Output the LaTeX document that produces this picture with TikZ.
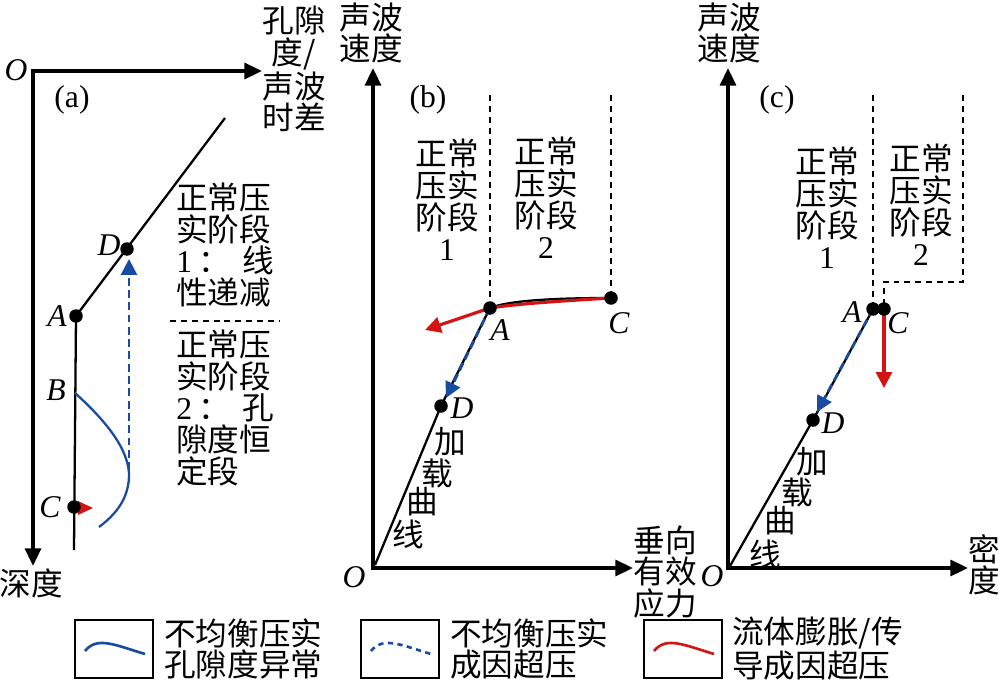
\documentclass[tikz,border=0pt]{standalone}
\usepackage{fontspec}
\setmainfont{Liberation Serif}
\newfontfamily\zh{Noto Sans CJK SC}
\usetikzlibrary{arrows.meta}
\definecolor{fluidred}{RGB}{210,20,20}
\definecolor{compblue}{RGB}{25,75,160}
\newcommand{\txtsize}{\fontsize{18}{18}\selectfont}

\tikzset{
  axispair/.style={line width=2.1pt, {Triangle[length=10pt,width=9pt]}-{Triangle[length=10pt,width=9pt]}},
  trend/.style={line width=1.3pt},
  pt/.style={circle, fill=black, inner sep=0pt, minimum size=0.27cm},
  zhlbl/.style={font=\txtsize\zh, align=center, inner sep=0pt},
  ltr/.style={font=\txtsize, inner sep=0pt},
  bound/.style={line width=0.9pt, dash pattern=on 3.4pt off 2.8pt},
  bluedash/.style={compblue, line width=1.6pt, dash pattern=on 4.5pt off 2.5pt, -{Triangle[length=9pt,width=9pt]}},
  redarr/.style={fluidred, line width=1.8pt, -{Triangle[length=9pt,width=9pt]}},
  legbox/.style={draw, line width=1.4pt, minimum width=1.56cm, minimum height=1.16cm, inner sep=0pt},
  leg1/.style={compblue, line width=1.5pt},
  leg2/.style={compblue, line width=1.5pt, dash pattern=on 3pt off 2.5pt},
  leg3/.style={fluidred, line width=1.5pt},
}

\begin{document}
\begin{tikzpicture}[x=0.02cm,y=-0.02cm]
\useasboundingbox (0,0) rectangle (1000,686);

% (a) depth profile
\coordinate (aO) at (33,71);
\coordinate (aX) at (262,71);
\coordinate (aY) at (33,566);
\draw[axispair] (aX) -- (aO) -- (aY);
\node[ltr] (aOl) at (16,70) {\textit{O}};
\node[zhlbl] (aXl) at (294,69) {孔隙\\度/\\声波\\时差};
\node[zhlbl] (aYl) at (31,583) {深度};
\node[ltr] (aTag) at (72,100) {(a)};

\coordinate (aA) at (76,316);
\coordinate (aD) at (127,249);
\coordinate (aC) at (74,507);
\coordinate (aB) at (75,393);
\coordinate (aT) at (225,118);
\coordinate (aE) at (74,550);
\draw[trend] (aT) -- (aA) -- (aE);
\draw[trend, compblue] (aB) .. controls (105,420) and (130,450) .. (129,477)
  .. controls (128,500) and (115,515) .. (99,527);
\coordinate (aS) at (129,470);
\coordinate (aU) at (129,259);
\draw[bluedash] (aS) -- (aU);
\fill[fluidred] (78,501) -- (93,508) -- (78,515) -- cycle;
\node[pt] (aAp) at (aA) {};
\node[pt] (aDp) at (aD) {};
\node[pt] (aCp) at (aC) {};
\node[ltr] (aAl) at (57,316) {\textit{A}};
\node[ltr] (aBl) at (56,390) {\textit{B}};
\node[ltr] (aCl) at (50,507) {\textit{C}};
\node[ltr] (aDl) at (109,245) {\textit{D}};

\node[zhlbl, align=left, anchor=west] (aSeg1) at (176,245)
  {正常压\\实阶段\\{\rmfamily 1}\hspace{0.2em}：\hspace{0.4em}线\\性递减};
\coordinate (aL) at (170,321);
\coordinate (aR) at (280,321);
\draw[bound] (aL) -- (aR);
\node[zhlbl, align=left, anchor=west] (aSeg2) at (176,408)
  {正常压\\实阶段\\{\rmfamily 2}\hspace{0.2em}：\hspace{0.4em}孔\\隙度恒\\定段};

% (b) velocity vs. effective stress
\coordinate (bO) at (373,568);
\coordinate (bY) at (373,68);
\coordinate (bX) at (633,568);
\draw[axispair] (bY) -- (bO) -- (bX);
\node[ltr] (bOl) at (354,577) {\textit{O}};
\node[zhlbl] (bYl) at (371,33) {声波\\速度};
\node[zhlbl] (bXl) at (665,572) {垂向\\有效\\应力};
\node[ltr] (bTag) at (428,100) {(b)};

\coordinate (bA) at (490,308);
\coordinate (bC) at (611,298);
\coordinate (bD) at (441,406);
\coordinate (bS) at (375,565);
\coordinate (bA0) at (490,95);
\coordinate (bC0) at (611,95);
\draw[bound] (bA0) -- (bA);
\draw[bound] (bC0) -- (bC);
\node[zhlbl] (bSeg1) at (447,200) {正常\\压实\\阶段\\{\rmfamily 1}};
\node[zhlbl] (bSeg2) at (546,198) {正常\\压实\\阶段\\{\rmfamily 2}};

\draw[trend] (bS) -- (bD) -- (bA) .. controls (510,300) and (560,298) .. (bC);
\coordinate (bR) at (425,330);
\draw[redarr] (bC) .. controls (560,301) and (515,304) .. (bA) -- (bR);
\coordinate (bU) at (446,398);
\draw[bluedash] (bA) -- (bU);
\node[pt] (bAp) at (bA) {};
\node[pt] (bCp) at (bC) {};
\node[pt] (bDp) at (bD) {};
\node[ltr] (bAl) at (500,330) {\textit{A}};
\node[ltr] (bCl) at (619,323) {\textit{C}};
\node[ltr] (bDl) at (462,408) {\textit{D}};
\foreach \c/\x/\y [count=\i] in {加/450/442, 载/437/473, 曲/422/502, 线/408/534}
  \node[zhlbl] (bq\i) at (\x,\y) {\c};

% (c) velocity vs. density
\coordinate (cO) at (728,568);
\coordinate (cY) at (728,68);
\coordinate (cX) at (968,568);
\draw[axispair] (cY) -- (cO) -- (cX);
\node[ltr] (cOl) at (712,576) {\textit{O}};
\node[zhlbl] (cYl) at (729,33) {声波\\速度};
\node[zhlbl] (cXl) at (984,565) {密\\度};
\node[ltr] (cTag) at (777,100) {(c)};

\coordinate (cA) at (873,309);
\coordinate (cC) at (884,309);
\coordinate (cD) at (813,420);
\coordinate (cS) at (730,566);
\coordinate (cA0) at (873,95);
\coordinate (cC0) at (963,95);
\coordinate (cC1) at (963,282);
\coordinate (cC2) at (884,282);
\draw[bound] (cA0) -- (cA);
\draw[bound] (cC0) -- (cC1) -- (cC2) -- (cC);
\node[zhlbl] (cSeg1) at (827,208) {正常\\压实\\阶段\\{\rmfamily 1}};
\node[zhlbl] (cSeg2) at (921,205) {正常\\压实\\阶段\\{\rmfamily 2}};

\draw[trend] (cS) -- (cD) -- (cA);
\coordinate (cU) at (817,412);
\draw[bluedash] (cA) -- (cU);
\coordinate (cR) at (884,388);
\draw[redarr] (cC) -- (cR);
\node[pt] (cAp) at (cA) {};
\node[pt] (cCp) at (cC) {};
\node[pt] (cDp) at (cD) {};
\node[ltr] (cAl) at (852,312) {\textit{A}};
\node[ltr] (cCl) at (898,323) {\textit{C}};
\node[ltr] (cDl) at (833,423) {\textit{D}};
\foreach \c/\x/\y [count=\i] in {加/812/462, 载/797/492, 曲/780/521, 线/765/554}
  \node[zhlbl] (cq\i) at (\x,\y) {\c};

% legend
\node[legbox] (k1) at (114,649) {};
\draw[leg1] (85,651) .. controls (97,636) and (115,645) .. (145,654);
\node[zhlbl, align=left, anchor=west] (k1t) at (164,649) {不均衡压实\\孔隙度异常};
\node[legbox] (k2) at (400,649) {};
\draw[leg2] (371,651) .. controls (383,636) and (401,645) .. (431,654);
\node[zhlbl, align=left, anchor=west] (k2t) at (450,649) {不均衡压实\\成因超压};
\node[legbox] (k3) at (683,649) {};
\draw[leg3] (654,651) .. controls (666,636) and (684,645) .. (714,654);
\node[zhlbl, align=left, anchor=west] (k3t) at (732,649) {流体膨胀/传\\导成因超压};
\end{tikzpicture}
\end{document}
